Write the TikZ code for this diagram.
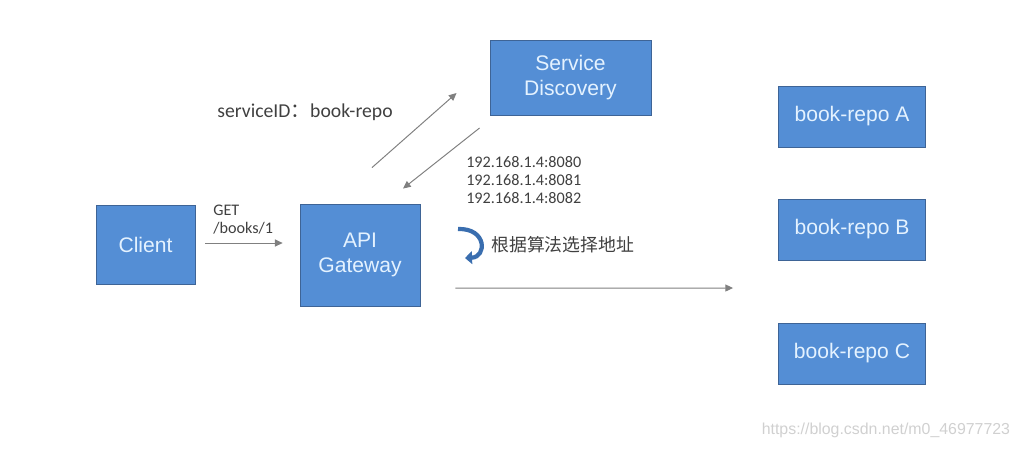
\documentclass[tikz,border=0pt]{standalone}
\usepackage{fontspec}
\setmainfont{Liberation Sans}
\newfontfamily\calfont{Carlito}
\newfontfamily\cjk{Noto Sans CJK SC}
\usetikzlibrary{arrows.meta, positioning, calc}
\definecolor{boxblue}{RGB}{84,142,213}
\definecolor{boxedge}{RGB}{62,100,150}
\definecolor{boxtext}{RGB}{228,242,255}
\definecolor{arrowgray}{RGB}{128,128,128}
\definecolor{labelgray}{RGB}{64,64,64}
\definecolor{icoblue}{RGB}{58,110,175}
\definecolor{markgray}{RGB}{208,208,208}

\begin{document}
\begin{tikzpicture}[x=0.025cm, y=-0.025cm,
    every node/.style={font=\fontsize{15}{18}\selectfont},
    box/.style={draw=boxedge, line width=0.6pt, fill=boxblue, text=boxtext, align=center, inner sep=0pt},
    a/.style={-{Triangle[length=5.5pt, width=5pt]}, draw=arrowgray, line width=0.7pt},
    lbl/.style={text=labelgray, align=left, inner sep=0pt, font=\calfont\fontsize{11.5}{12.5}\selectfont}
]
\useasboundingbox (0,0) rectangle (1024,450);

% boxes
\node[box, minimum width=2.475cm, minimum height=1.975cm] (client) at (145.5,244.5) {Client};
\node[box, minimum width=3cm, minimum height=2.55cm] (gw) at (360,255) {API\\Gateway};
\node[box, minimum width=4.025cm, minimum height=1.875cm] (sd) at (570.5,77.5) {Service\\Discovery};
\node[box, minimum width=3.675cm, minimum height=1.525cm] (repoA) at (852,116.5) {book-repo A};
\node[box, minimum width=3.675cm, minimum height=1.525cm] (repoB) at (852,229.5) {book-repo B};
\node[box, minimum width=3.675cm, minimum height=1.525cm] (repoC) at (852,353.5) {book-repo C};

% arrow ends
\coordinate (upS) at ($(gw.north)+(12,-36)$);
\coordinate (upE) at ($(sd.west)+(-33,15.5)$);
\coordinate (dnS) at ($(sd.west)+(-10,50.5)$);
\coordinate (dnE) at ($(gw.north)+(43,-15)$);
\coordinate (outS) at ($(gw.east)+(35,33)$);
\coordinate (outE) at ($(repoB.west)+(-45,58.5)$);

\draw[a] (client.east |- 0,243) -- node[lbl, above=6pt, xshift=-3pt]{GET\\/books/1} (gw.west |- 0,243)
  [shorten <=7pt, shorten >=12pt];
\draw[a] (upS) -- (upE);
\draw[a] (dnS) -- (dnE);
\draw[a] (outS) -- (outE);

% labels
\node[lbl, font=\calfont\fontsize{14}{16}\selectfont] (sid) at (305,112) {serviceID{\cjk ：}book-repo};
\node[lbl, anchor=west] (ips) at (466,180) {192.168.1.4:8080\\192.168.1.4:8081\\192.168.1.4:8082};
\draw[icoblue, line width=3pt, -{Triangle[length=5pt, width=9pt]}]
  (458,229) .. controls (487,228) and (487,257) .. (465,258);
\node[lbl, anchor=west, font=\cjk\fontsize{12.7}{14}\selectfont] (algo) at (491,245) {根据算法选择地址};

\node[anchor=east, text=markgray, font=\fontsize{11.3}{13}\selectfont] (mark) at (1015,430) {https://blog.csdn.net/m0\_46977723};
\end{tikzpicture}
\end{document}
